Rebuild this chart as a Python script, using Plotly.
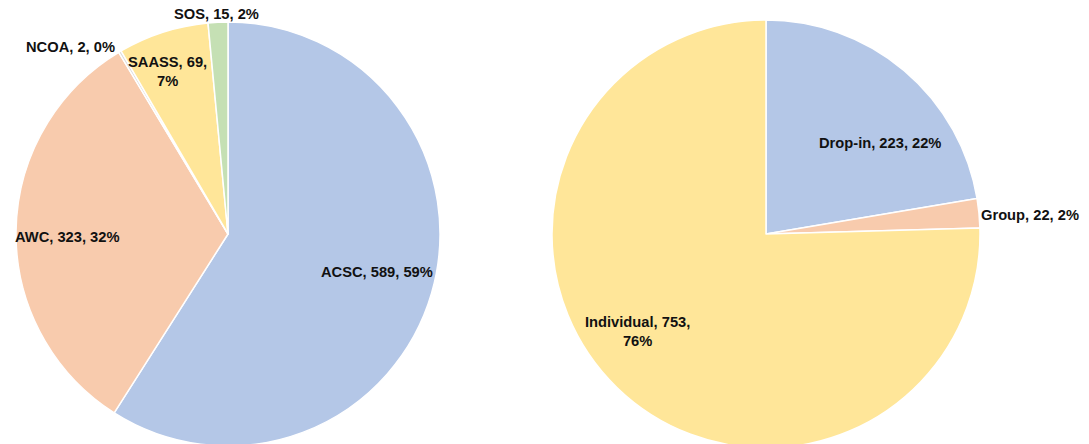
import plotly.graph_objects as go

# ---- data ----
left_labels = ["ACSC", "AWC", "NCOA", "SAASS", "SOS"]
left_values = [589, 323, 2, 69, 15]
left_pcts = ["59%", "32%", "0%", "7%", "2%"]

right_labels = ["Drop-in", "Group", "Individual"]
right_values = [223, 22, 753]
right_pcts = ["22%", "2%", "76%"]

# ---- styles ----
left_colors = ["#B4C7E7", "#F8CBAD", "#DBDBDB", "#FFE699", "#C5E0B4"]
right_colors = ["#B4C7E7", "#F8CBAD", "#FFE699"]

W, H = 1089, 456  # slightly taller than the window so the pie bottoms are cropped like the original
# pie geometry in pixels (layout only): center x, center y (from top), radius
left_geo = (228, 234, 212)
right_geo = (766, 234, 214)
# label anchor positions in pixels (layout only)
left_pos = [(377, 272), (67, 237), (70, 47), (167, 71), (216, 14)]
left_break = [False, False, False, True, False]
right_pos = [(880, 143), (1030, 215), (637, 331)]
right_break = [False, False, True]


def dom(geo):
    cx, cy, r = geo
    return dict(x=[(cx - r) / W, (cx + r) / W],
                y=[(H - (cy + r)) / H, (H - (cy - r)) / H])


fig = go.Figure()
fig.add_trace(go.Pie(
    labels=left_labels, values=left_values, sort=False, direction="clockwise",
    rotation=0, textinfo="none", marker=dict(colors=left_colors, line=dict(color="white", width=1.5)),
    domain=dom(left_geo), showlegend=False,
))
fig.add_trace(go.Pie(
    labels=right_labels, values=right_values, sort=False, direction="clockwise",
    rotation=0, textinfo="none", marker=dict(colors=right_colors, line=dict(color="white", width=1.5)),
    domain=dom(right_geo), showlegend=False,
))

font = dict(family="Liberation Sans, Arial, sans-serif", size=14.7, color="#111111")


def add_labels(labels, values, pcts, pos, brk):
    for lab, v, p, (px, py), b in zip(labels, values, pcts, pos, brk):
        if b:
            txt = f"<b>{lab}, {v},</b><br><b>{p}</b>"
        else:
            txt = f"<b>{lab}, {v}, {p}</b>"
        fig.add_annotation(x=px / W, y=1 - py / H, xref="paper", yref="paper",
                           text=txt, showarrow=False, font=font,
                           xanchor="center", yanchor="middle", align="center")


add_labels(left_labels, left_values, left_pcts, left_pos, left_break)
add_labels(right_labels, right_values, right_pcts, right_pos, right_break)

fig.update_layout(width=W, height=H, margin=dict(l=0, r=0, t=0, b=0),
                  paper_bgcolor="white", plot_bgcolor="white")
fig.write_html("out.html", config={"displayModeBar": False})

# remove default page margin so the figure sits at the window origin
with open("out.html", "r", encoding="utf-8") as f:
    html = f.read()
html = html.replace("<body>", '<body style="margin:0;padding:0;overflow:hidden">', 1)
with open("out.html", "w", encoding="utf-8") as f:
    f.write(html)
